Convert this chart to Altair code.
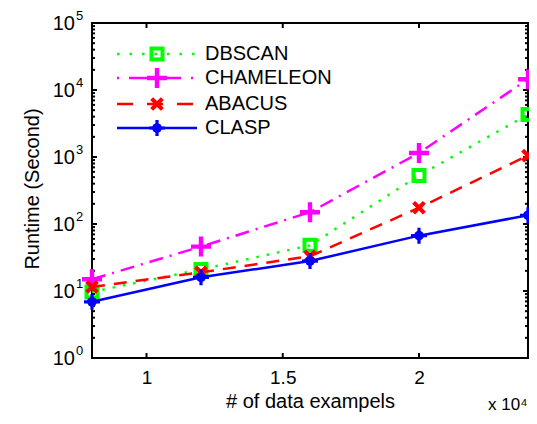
import altair as alt
import pandas as pd

# ---- data ----
x_vals = [8000, 12000, 16000, 20000, 24000]
series = ["DBSCAN", "CHAMELEON", "ABACUS", "CLASP"]
dbscan = [9.7, 21, 48, 530, 4300]
chameleon = [15, 46, 150, 1150, 14500]
abacus = [11.5, 19, 33, 175, 1050]
clasp = [6.9, 16, 28, 67, 135]
values = [dbscan, chameleon, abacus, clasp]

y_major = [1, 10, 100, 1000, 10000, 100000]
y_base = ["10"] * 6
y_exp = ["0", "1", "2", "3", "4", "5"]
y_minor = [m * 10 ** k for k in range(5) for m in range(2, 10)]
x_major = [10000, 15000, 20000]
x_labels = ["1", "1.5", "2"]
x_mult = "x 10\u2074"

# ---- styles ----
W, H = 436, 335
FONT = "Liberation Sans"
colors = ["#00ff00", "#ff00ff", "#ff0000", "#0000ff"]
dashes = [[2.5, 8], [14, 7, 2, 7], [13, 9], None]
leg_dashes = [[2.5, 10], [2, 10, 52, 10, 2, 40], [16, 14], None]
PLUS = "M-1,-0.22H-0.22V-1H0.22V-0.22H1V0.22H0.22V1H-0.22V0.22H-1Z"
XPLUS = "M-1,-0.27H-0.27V-1H0.27V-0.27H1V0.27H0.27V1H-0.27V0.27H-1Z"
STAR = "M-1,-0.2H-0.2V-1H0.2V-0.2H1V0.2H0.2V1H-0.2V0.2H-1Z"

x_label_expr = ("[" + ",".join("'%s'" % s for s in x_labels) + "][indexof(["
                + ",".join(str(v) for v in x_major) + "], datum.value)]")

X = alt.X("x:Q", scale=alt.Scale(domain=[8000, 24000], nice=False, zero=False),
          axis=alt.Axis(values=x_major, labelExpr=x_label_expr, ticks=False, tickSize=0,
                        domain=False, grid=False, labelFontSize=19, labelPadding=10,
                        labelFont=FONT, labelColor="black", title="# of data exampels",
                        titleFont=FONT, titleFontSize=20, titleFontWeight="normal",
                        titleColor="black", titleY=33))
Y = alt.Y("y:Q", scale=alt.Scale(type="log", domain=[1, 100000], nice=False),
          axis=alt.Axis(values=y_major, labels=False, ticks=False, tickSize=0,
                        domain=False, grid=False, title="Runtime (Second)",
                        titleFont=FONT, titleFontSize=20, titleFontWeight="normal",
                        titleColor="black", titleX=-50, titleY=H / 2 - 2))


def marker_layers(df, i, xenc, yenc):
    c = colors[i]
    if i == 0:
        return [alt.Chart(df).mark_point(shape="square", size=121, filled=False,
                                         stroke=c, strokeWidth=4, opacity=1).encode(x=xenc, y=yenc)]
    if i == 1:
        return [alt.Chart(df).mark_point(shape=PLUS, size=400, filled=True, fill=c,
                                         strokeWidth=0, opacity=1).encode(x=xenc, y=yenc)]
    if i == 2:
        return [alt.Chart(df).mark_point(shape=XPLUS, size=230, angle=45, filled=True, fill=c,
                                         strokeWidth=0, opacity=1).encode(x=xenc, y=yenc)]
    return [alt.Chart(df).mark_point(shape="circle", size=95, filled=True, fill=c,
                                     strokeWidth=0, opacity=1).encode(x=xenc, y=yenc),
            alt.Chart(df).mark_point(shape=STAR, size=256, filled=True, fill=c,
                                     strokeWidth=0, opacity=1).encode(x=xenc, y=yenc)]


layers = []

# ticks (inward, on all four sides)
ymaj = pd.DataFrame({"y": y_major, "base": y_base, "exp": y_exp})
ymin = pd.DataFrame({"y": y_minor})
xmaj = pd.DataFrame({"x": x_major})
for df, ln in [(ymaj, 5), (ymin, 3)]:
    layers.append(alt.Chart(df).mark_rule(color="black", strokeWidth=2)
                  .encode(y=Y, x=alt.value(0), x2=alt.value(ln)))
    layers.append(alt.Chart(df).mark_rule(color="black", strokeWidth=2)
                  .encode(y=Y, x=alt.value(W), x2=alt.value(W - ln)))
layers.append(alt.Chart(xmaj).mark_rule(color="black", strokeWidth=2)
              .encode(x=X, y=alt.value(H), y2=alt.value(H - 5)))
layers.append(alt.Chart(xmaj).mark_rule(color="black", strokeWidth=2)
              .encode(x=X, y=alt.value(0), y2=alt.value(5)))

# y tick labels 10^k with raised exponent
layers.append(alt.Chart(ymaj).mark_text(align="right", baseline="middle", font=FONT,
                                        fontSize=20, color="black", dy=1)
              .encode(y=Y, x=alt.value(-17), text="base:N"))
layers.append(alt.Chart(ymaj).mark_text(align="left", baseline="middle", font=FONT,
                                        fontSize=13, color="black", dy=-7)
              .encode(y=Y, x=alt.value(-16), text="exp:N"))

# data lines and markers
for i, name in enumerate(series):
    df = pd.DataFrame({"x": x_vals, "y": values[i]})
    kw = dict(color=colors[i], strokeWidth=2.5)
    if dashes[i]:
        kw["strokeDash"] = dashes[i]
    layers.append(alt.Chart(df).mark_line(**kw).encode(x=X, y=Y))
    layers += marker_layers(df, i, X, Y)

# legend
leg_rows = [31, 55, 81, 105]
for i, name in enumerate(series):
    ldf = pd.DataFrame({"name": [name]})
    kw = dict(color=colors[i], strokeWidth=2.5)
    if leg_dashes[i]:
        kw["strokeDash"] = leg_dashes[i]
    layers.append(alt.Chart(ldf).mark_rule(**kw).encode(
        x=alt.value(25), x2=alt.value(105), y=alt.value(leg_rows[i])))
    layers += marker_layers(ldf, i, alt.value(65), alt.value(leg_rows[i]))
    layers.append(alt.Chart(ldf).mark_text(align="left", baseline="middle", font=FONT,
                                           fontSize=20, color="black")
                  .encode(x=alt.value(113), y=alt.value(leg_rows[i]), text="name:N"))

# multiplier text
mdf = pd.DataFrame({"t": [x_mult]})
layers.append(alt.Chart(mdf).mark_text(align="left", baseline="alphabetic", font=FONT,
                                       fontSize=17, color="black")
              .encode(x=alt.value(396), y=alt.value(387), text="t:N"))

chart = alt.layer(*layers).properties(
    width=W, height=H,
    padding={"left": 84, "top": 15, "right": 1, "bottom": 58},
    autosize=alt.AutoSizeParams(type="none"),
    background="white",
).configure_view(stroke="black", strokeWidth=2)

chart.save("out.html", embed_options={"renderer": "svg", "actions": False})
